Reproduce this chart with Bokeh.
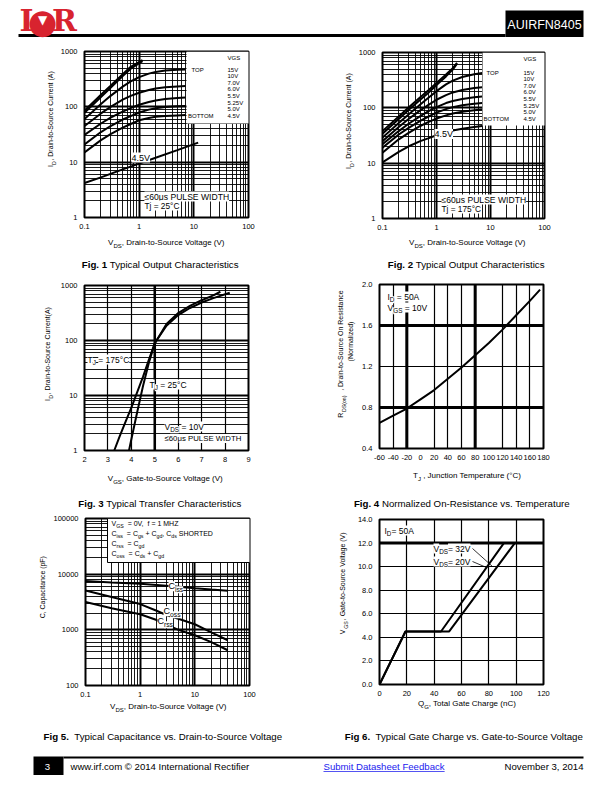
import math
from bokeh.plotting import figure
from bokeh.layouts import column, row
from bokeh.models import (Label, BoxAnnotation, Span, Arrow, FixedTicker, SingleIntervalTicker,
                          CustomJSTickFormatter, PrintfTickFormatter, Range1d)
from bokeh.embed import file_html
from bokeh.resources import INLINE

FONT = "Liberation Sans"

# ---------------- data ----------------
# Fig 1 : typical output characteristics, Tj = 25 C
vgs_steps = ["15V", "10V", "7.0V", "6.0V", "5.5V", "5.25V", "5.0V", "4.5V"]
f1_vds_a = [0.1, 0.2, 0.3, 0.5, 0.7, 1.15]
f1_id_15 = [85, 165, 240, 390, 530, 700]
f1_id_10 = [78, 150, 220, 360, 490, 670]
f1_vds_b = [0.1, 0.2, 0.3, 0.5, 0.7, 1.0, 1.5, 2.0, 3.0, 5.0, 7.0]
f1_id_70 = [60, 112, 158, 232, 288, 345, 398, 428, 452, 468, 474]
f1_id_60 = [45, 76, 100, 135, 158, 180, 202, 214, 225, 233, 237]
f1_id_55 = [31, 50, 64, 82, 95, 109, 122, 130, 138, 144, 147]
f1_id_525 = [21, 35, 45, 59, 68, 79, 89, 94, 99, 102, 104]
f1_id_50 = [15, 25, 32, 42, 49, 57, 63, 66, 68, 70, 71]
f1_vds_45 = [0.1, 0.2, 0.5, 1.0, 2.0, 5.0, 12.0]
f1_id_45 = [4.2, 5.3, 7.4, 9.4, 12.0, 16.5, 22.5]

# Fig 2 : typical output characteristics, Tj = 175 C
f2_vds_a = [0.1, 0.2, 0.3, 0.5, 0.7, 1.0, 1.5, 2.0, 2.4]
f2_id_15 = [38, 70, 100, 155, 205, 280, 400, 520, 650]
f2_id_10 = [34, 63, 90, 140, 186, 258, 370, 490, 630]
f2_vds_b = [0.1, 0.2, 0.3, 0.5, 0.7, 1.0, 1.5, 2.0, 3.0, 5.0, 7.0]
f2_id_70 = [29, 53, 75, 115, 150, 200, 265, 310, 360, 405, 425]
f2_id_60 = [25, 45, 62, 90, 112, 140, 170, 190, 210, 228, 235]
f2_id_55 = [22, 38, 51, 71, 86, 103, 122, 133, 145, 156, 161]
f2_id_525 = [19, 33, 43, 58, 69, 82, 95, 103, 111, 119, 122]
f2_id_50 = [15.5, 27, 35, 47, 55, 64, 73, 79, 85, 90, 93]
f2_id_45 = [10.3, 16, 20, 25, 28, 32, 36, 39, 42, 45, 47]

# Fig 3 : transfer characteristics
f3_vgs_175 = [3.27, 3.5, 3.75, 4.0, 4.25, 4.5, 4.75, 5.0, 5.5, 6.0, 6.5, 7.0, 7.5, 8.2]
f3_id_175 = [1, 1.8, 3.3, 6, 11.5, 22, 45, 90, 185, 290, 390, 490, 590, 740]
f3_vgs_25 = [3.9, 4.0, 4.25, 4.5, 4.75, 5.0, 5.5, 6.0, 6.5, 7.0, 7.5, 7.8]
f3_id_25 = [1, 1.6, 5, 15, 40, 88, 200, 315, 425, 540, 660, 770]

# Fig 4 : normalized on-resistance vs temperature
f4_tj = [-60, -40, -20, 0, 20, 40, 60, 80, 100, 120, 140, 160, 175]
f4_rds = [0.65, 0.72, 0.79, 0.88, 0.97, 1.08, 1.19, 1.31, 1.43, 1.56, 1.70, 1.84, 1.95]

# Fig 5 : capacitance vs VDS
f5_vds = [0.1, 0.3, 1, 2, 3, 5, 10, 20, 40]
f5_ciss = [7500, 7100, 6700, 6400, 6200, 5950, 5600, 5300, 5050]
f5_coss = [5100, 3900, 2900, 2200, 1850, 1580, 1260, 900, 650]
f5_crss = [3150, 2450, 1900, 1500, 1250, 1000, 800, 600, 430]

# Fig 6 : gate charge
f6_qg_20 = [0, 19, 45, 91]
f6_vgs_20 = [0, 4.5, 4.5, 12]
f6_qg_32 = [0, 19, 51, 99]
f6_vgs_32 = [0, 4.5, 4.5, 12]

# ---------------- text helpers ----------------
W = {' ': 278, '!': 278, '(': 333, ')': 333, '+': 584, ',': 278, '-': 333, '.': 278, '/': 278,
     ':': 278, '=': 584, '°': 400, 'μ': 556, '≤': 549, '©': 737,
     'A': 667, 'B': 667, 'C': 722, 'D': 722, 'E': 667, 'F': 611, 'G': 778, 'H': 722, 'I': 278,
     'J': 500, 'K': 667, 'L': 556, 'M': 833, 'N': 722, 'O': 778, 'P': 667, 'Q': 778, 'R': 722,
     'S': 667, 'T': 611, 'U': 722, 'V': 667, 'W': 944, 'X': 667, 'Y': 667, 'Z': 611,
     'a': 556, 'b': 556, 'c': 500, 'd': 556, 'e': 556, 'f': 278, 'g': 556, 'h': 556, 'i': 222,
     'j': 222, 'k': 500, 'l': 222, 'm': 833, 'n': 556, 'o': 556, 'p': 556, 'q': 556, 'r': 333,
     's': 500, 't': 278, 'u': 556, 'v': 500, 'w': 722, 'x': 500, 'y': 500, 'z': 500}
WB = {'F': 611, 'i': 278, 'g': 611, '.': 278, ' ': 278}
MID = 0.35        # distance baseline -> visual middle, in em
ROT_SCALE = 0.87  # rotated text renders wider; compensate


def tw(s, size, bold=False):
    tot = 0
    for c in s:
        if c.isdigit():
            tot += 556
        elif bold and c in WB:
            tot += WB[c]
        else:
            tot += W.get(c, 556)
    return tot * size / 1000.0


def lab(p, fr, text, px, py, size, align="left", angle=0.0, bold=False, bg=None,
        color="black", font=FONT):
    """px, py: page position of the text's anchor (vertical middle)."""
    fl, fb = fr
    kw = {}
    if bg is not None:
        kw["background_fill_color"] = bg
        kw["background_fill_alpha"] = 1.0
    p.add_layout(Label(x=px - fl, y=fb - py, x_units="screen", y_units="screen", text=text,
                       angle=angle, text_font=font, text_font_size="%.2fpx" % size,
                       text_font_style="bold" if bold else "normal", text_color=color,
                       text_align=align, text_baseline="middle", **kw))


def rich(p, fr, parts, px, py, size, align="left", angle=0.0, bg=None, color="black"):
    """parts: (text, style) with style n=normal, b=bold, s=subscript; py = baseline."""
    widths = []
    for t, st in parts:
        fs = size * 0.75 if st == "s" else size
        widths.append(tw(t, fs, st == "b"))
    total = sum(widths)
    pos = {"left": 0.0, "center": -total / 2.0, "right": -total}[align]
    for (t, st), w in zip(parts, widths):
        fs = size * 0.75 if st == "s" else size
        drop = size * 0.3 if st == "s" else 0.0
        lead = len(t) - len(t.lstrip(" "))
        core = t.strip(" ")
        off = pos + tw(" " * lead, fs)
        if core:
            if angle:
                qx, qy = px + drop - MID * fs, py - off
                lab(p, fr, core, qx, qy, fs * ROT_SCALE, angle=angle, bold=(st == "b"), bg=bg,
                    color=color)
            else:
                qx, qy = px + off, py + drop - MID * fs
                lab(p, fr, core, qx, qy, fs, angle=angle, bold=(st == "b"), bg=bg, color=color)
        pos += w


def box(p, fr, x0, x1, y0, y1, fill="white", line=None, lw=1):
    fl, fb = fr
    p.add_layout(BoxAnnotation(left=x0 - fl, right=x1 - fl, top=fb - y0, bottom=fb - y1,
                               left_units="screen", right_units="screen",
                               top_units="screen", bottom_units="screen",
                               fill_color=fill, fill_alpha=1.0,
                               line_color=line, line_alpha=1.0, line_width=lw))


def blank(w, h):
    f = figure(width=w, height=h, x_range=(0, 1), y_range=(0, 1), toolbar_location=None,
               output_backend="svg", title=None, x_axis_location=None, y_axis_location=None,
               min_border=0)
    f.outline_line_color = None
    f.xgrid.visible = False
    f.ygrid.visible = False
    f.border_fill_color = "white"
    f.background_fill_color = "white"
    return f


def make_chart(w, h, bl, br, bt, bb, xr, yr, xlog=False, ylog=False):
    p = figure(width=w, height=h, x_range=Range1d(*xr), y_range=Range1d(*yr),
               x_axis_type="log" if xlog else "linear", y_axis_type="log" if ylog else "linear",
               toolbar_location=None, output_backend="svg", title=None,
               min_border_left=bl, min_border_right=br, min_border_top=bt, min_border_bottom=bb)
    p.outline_line_color = "black"
    p.outline_line_width = 2
    p.outline_line_alpha = 1.0
    p.border_fill_color = "white"
    p.background_fill_color = "white"
    for ax in p.axis:
        ax.axis_line_color = None
        ax.major_tick_line_color = None
        ax.minor_tick_line_color = None
        ax.major_tick_out = 0
        ax.major_tick_in = 0
        ax.minor_tick_out = 0
        ax.minor_tick_in = 0
        ax.major_label_text_font = FONT
        ax.major_label_text_font_size = "7.5px"
        ax.major_label_text_color = "black"
    p.xaxis.major_label_standoff = 6
    p.yaxis.major_label_standoff = 7
    p.grid.grid_line_color = "black"
    p.grid.grid_line_alpha = 1.0
    p.grid.grid_line_width = 1.2
    fmt = "return String(Math.round(tick*1000)/1000);"
    if xlog:
        p.xaxis.formatter = CustomJSTickFormatter(code=fmt)
        p.xgrid.grid_line_width = 2
        p.xgrid.minor_grid_line_color = "black"
        p.xgrid.minor_grid_line_width = 0.9
    if ylog:
        p.yaxis.formatter = CustomJSTickFormatter(code=fmt)
        p.ygrid.grid_line_width = 2
        p.ygrid.minor_grid_line_color = "black"
        p.ygrid.minor_grid_line_width = 0.9
    return p


CURVE = dict(line_color="black", line_width=2)
AXS = 8.0      # axis-label font size
CAP = 9.7      # caption font size
UP = math.pi / 2

# ======== row 1 (page y 45..275) ========
y1 = blank(57, 193); fy1 = (0, 238)
p1 = make_chart(249, 193, 26, 58, 6, 21, (0.1, 100), (1, 1000), True, True); fr1 = (83, 217)
c1 = blank(306, 37); fc1 = (0, 275)
for ys in [f1_id_15, f1_id_10]:
    p1.line(f1_vds_a, ys, **CURVE)
for ys in [f1_id_70, f1_id_60, f1_id_55, f1_id_525, f1_id_50]:
    p1.line(f1_vds_b, ys, **CURVE)
p1.line(f1_vds_45, f1_id_45, **CURVE)
box(p1, fr1, 185, 249, 51, 123)
lab(p1, fr1, "VGS", 226, 57, 6)
lab(p1, fr1, "TOP", 190, 69, 6)
for i, s in enumerate(vgs_steps):
    lab(p1, fr1, s, 226, 69 + i * 6.65, 6)
lab(p1, fr1, "BOTTOM", 186.5, 69 + 7 * 6.65, 6)
lab(p1, fr1, "4.5V", 130, 157, 9, bg="white")
lab(p1, fr1, "≤60μs PULSE WIDTH", 143, 196, 8.6, bg="white")
lab(p1, fr1, "Tj = 25°C", 143, 205, 8.3, bg="white")
rich(y1, fy1, [("I", "n"), ("D", "s"), (", Drain-to-Source Current (A)", "n")], 53, 133, AXS,
     align="center", angle=UP)
rich(c1, fc1, [("V", "n"), ("DS", "s"), (", Drain-to-Source Voltage (V)", "n")], 166, 245, AXS,
     align="center")
rich(c1, fc1, [("Fig. 1", "b"), (" Typical Output Characteristics", "n")], 160, 267, CAP,
     align="center")

y2 = blank(49, 193); fy2 = (306, 238)
p2 = make_chart(257, 193, 24, 68, 7, 20, (0.1, 100), (1, 1000), True, True); fr2 = (379, 218)
c2 = blank(306, 37); fc2 = (306, 275)
for ys in [f2_id_15, f2_id_10]:
    p2.line(f2_vds_a, ys, **CURVE)
for ys in [f2_id_70, f2_id_60, f2_id_55, f2_id_525, f2_id_50, f2_id_45]:
    p2.line(f2_vds_b, ys, **CURVE)
box(p2, fr2, 479, 545, 52, 125)
lab(p2, fr2, "VGS", 520, 58, 6)
lab(p2, fr2, "TOP", 483, 72, 6)
for i, s in enumerate(vgs_steps):
    lab(p2, fr2, s, 520, 72 + i * 6.6, 6)
lab(p2, fr2, "BOTTOM", 480, 72 + 7 * 6.6, 6)
lab(p2, fr2, "4.5V", 431, 133.5, 9, bg="white")
lab(p2, fr2, "≤60μs PULSE WIDTH", 438, 199, 8.6, bg="white")
lab(p2, fr2, "Tj = 175°C", 438, 208, 8.3, bg="white")
rich(y2, fy2, [("I", "n"), ("D", "s"), (", Drain-to-Source Current (A)", "n")], 351, 134, AXS,
     align="center", angle=UP)
rich(c2, fc2, [("V", "n"), ("DS", "s"), (", Drain-to-Source Voltage (V)", "n")], 467, 245, AXS,
     align="center")
rich(c2, fc2, [("Fig. 2", "b"), (" Typical Output Characteristics", "n")], 466, 267, CAP,
     align="center")

# ======== row 2 (page y 275..512) ========
y3 = blank(57, 197); fy3 = (0, 472)
p3 = make_chart(249, 197, 26, 58, 10, 22, (2, 9), (1, 1000), False, True); fr3 = (83, 450)
c3 = blank(306, 40); fc3 = (0, 512)
p3.xaxis.ticker = SingleIntervalTicker(interval=1)
p3.xgrid.ticker = SingleIntervalTicker(interval=1)
p3.xaxis.formatter = PrintfTickFormatter(format="%d")
p3.add_layout(Span(location=5, dimension="height", line_color="black", line_width=2.5))
p3.line(f3_vgs_175, f3_id_175, **CURVE)
p3.line(f3_vgs_25, f3_id_25, **CURVE)
rich(p3, fr3, [("T", "n"), ("J", "s"), (" = 175°C", "n")], 86, 362, 8.5, bg="white")
rich(p3, fr3, [("T", "n"), ("J", "s"), (" = 25°C", "n")], 148, 387, 8.5, bg="white")
rich(p3, fr3, [("V", "n"), ("DS", "s"), (" = 10V", "n")], 163, 429, 8.5, bg="white")
lab(p3, fr3, "≤60μs PULSE WIDTH", 163, 438, 7.8, bg="white")
rich(y3, fy3, [("I", "n"), ("D", "s"), (", Drain-to-Source Current(A)", "n")], 50, 369, AXS,
     align="center", angle=UP)
rich(c3, fc3, [("V", "n"), ("GS", "s"), (", Gate-to-Source Voltage (V)", "n")], 165, 481, AXS,
     align="center")
rich(c3, fc3, [("Fig. 3", "b"), (" Typical Transfer Characteristics", "n")], 160, 506, CAP,
     align="center")

y4 = blank(52, 197); fy4 = (306, 472)
p4 = make_chart(254, 197, 21, 69, 9, 24, (-60, 180), (0.4, 2.0)); fr4 = (379, 448)
c4 = blank(306, 40); fc4 = (306, 512)
p4.xaxis.ticker = SingleIntervalTicker(interval=20)
p4.xaxis.formatter = PrintfTickFormatter(format="%d")
p4.xgrid.ticker = FixedTicker(ticks=[-40, -20, 20, 40, 60, 80, 120, 140, 160])
p4.yaxis.ticker = SingleIntervalTicker(interval=0.4)
p4.ygrid.ticker = SingleIntervalTicker(interval=0.4)
p4.yaxis.formatter = PrintfTickFormatter(format="%.1f")
for loc in (-20, 80):
    p4.add_layout(Span(location=loc, dimension="height", line_color="black", line_width=3))
for loc in (0.8, 1.6):
    p4.add_layout(Span(location=loc, dimension="width", line_color="black", line_width=3))
p4.line(f4_tj, f4_rds, **CURVE)
rich(p4, fr4, [("I", "n"), ("D", "s"), (" = 50A", "n")], 387, 299, 8.5, bg="white")
rich(p4, fr4, [("V", "n"), ("GS", "s"), (" = 10V", "n")], 387, 310, 8.5, bg="white")
rich(y4, fy4, [("R", "n"), ("DS(on)", "s"), (" , Drain-to-Source On Resistance", "n")], 343, 370,
     AXS, align="center", angle=UP)
rich(y4, fy4, [("(Normalized)", "n")], 353, 362, AXS, align="center", angle=UP)
rich(c4, fc4, [("T", "n"), ("J", "s"), (" , Junction Temperature (°C)", "n")], 467, 478, AXS,
     align="center")
rich(c4, fc4, [("Fig. 4", "b"), (" Normalized On-Resistance vs. Temperature", "n")], 462, 506,
     CAP, align="center")

# ======== row 3 (page y 512..748) ========
y5 = blank(50, 191); fy5 = (0, 703)
p5 = make_chart(256, 191, 33, 57, 6, 18, (0.1, 100), (100, 100000), True, True); fr5 = (83, 685)
c5 = blank(306, 45); fc5 = (0, 748)
p5.line(f5_vds, f5_ciss, **CURVE)
p5.line(f5_vds, f5_coss, **CURVE)
p5.line(f5_vds, f5_crss, **CURVE)
box(p5, fr5, 105, 250, 518, 562, line="black", lw=1)
L5 = 7.0
rich(p5, fr5, [("V", "n"), ("GS", "s"), ("  = 0V,", "n")], 109, 525, L5)
rich(p5, fr5, [("f = 1 MHZ", "n")], 145, 525, L5)
rich(p5, fr5, [("C", "n"), ("iss", "s"), ("  = C", "n"), ("gs", "s"), (" + C", "n"), ("gd", "s"),
               (", C", "n"), ("ds", "s"), (" SHORTED", "n")], 109, 535, L5)
rich(p5, fr5, [("C", "n"), ("rss", "s"), ("  = C", "n"), ("gd", "s")], 109, 545, L5)
rich(p5, fr5, [("C", "n"), ("oss", "s"), ("  = C", "n"), ("ds", "s"), (" + C", "n"), ("gd", "s")],
     109, 555, L5)
rich(p5, fr5, [("C", "n"), ("iss", "s")], 166, 589, 9, bg="white")
rich(p5, fr5, [("C", "n"), ("oss", "s")], 161, 614, 9, bg="white")
rich(p5, fr5, [("C", "n"), ("rss", "s")], 155, 624, 9, bg="white")
rich(y5, fy5, [("C, Capacitance (pF)", "n")], 45, 600, AXS, align="center", angle=UP)
rich(c5, fc5, [("V", "n"), ("DS", "s"), (", Drain-to-Source Voltage (V)", "n")], 168, 709, AXS,
     align="center")
rich(c5, fc5, [("Fig 5.", "b"), ("  Typical Capacitance vs. Drain-to-Source Voltage", "n")], 163,
     739, CAP, align="center")

y6 = blank(48, 188); fy6 = (306, 700)
p6 = make_chart(258, 188, 24, 69, 7, 16, (0, 120), (0, 14)); fr6 = (378, 684)
c6 = blank(306, 48); fc6 = (306, 748)
p6.xaxis.ticker = SingleIntervalTicker(interval=20)
p6.xgrid.ticker = SingleIntervalTicker(interval=20)
p6.xaxis.formatter = PrintfTickFormatter(format="%d")
p6.yaxis.ticker = SingleIntervalTicker(interval=2)
p6.ygrid.ticker = SingleIntervalTicker(interval=2)
p6.yaxis.formatter = PrintfTickFormatter(format="%.1f")
p6.add_layout(Span(location=12, dimension="width", line_color="black", line_width=3))
p6.line(f6_qg_20, f6_vgs_20, **CURVE)
p6.line(f6_qg_32, f6_vgs_32, **CURVE)
rich(p6, fr6, [("I", "n"), ("D", "s"), ("= 50A", "n")], 383, 533, 8.5, bg="white")
rich(p6, fr6, [("V", "n"), ("DS", "s"), ("= 32V", "n")], 432, 551, 8.5, bg="white")
rich(p6, fr6, [("V", "n"), ("DS", "s"), ("= 20V", "n")], 432, 564, 8.5, bg="white")
for (xa, ya, xb, yb) in [(471, 548, 491, 566), (471, 561, 485, 567)]:
    p6.add_layout(Arrow(end=None, x_start=xa - fr6[0], y_start=fr6[1] - ya,
                        x_end=xb - fr6[0], y_end=fr6[1] - yb,
                        start_units="screen", end_units="screen",
                        line_color="black", line_width=0.8))
rich(y6, fy6, [("V", "n"), ("GS", "s"), (", Gate-to-Source Voltage (V)", "n")], 345, 592, AXS,
     align="center", angle=UP)
rich(c6, fc6, [("Q", "n"), ("G", "s"), (",  Total Gate Charge (nC)", "n")], 468, 706, AXS,
     align="center")
rich(c6, fc6, [("Fig 6.", "b"), ("  Typical Gate Charge vs. Gate-to-Source Voltage", "n")], 464,
     739, CAP, align="center")

# ======== header / footer ========
frH = (0, 45)
hdr = blank(612, 45)
RED = "#d8232f"
box(hdr, frH, 18, 505, 33.5, 36.5, fill="black")
box(hdr, frH, 505, 583, 10, 36.5, fill="black")
lab(hdr, frH, "AUIRFN8405", 544, 28.5 - MID * 12.5, 12.5, align="center", color="white")
lab(hdr, frH, "I", 19, 30.5 - MID * 30, 30, bold=True, color=RED, font="DejaVu Serif")
lab(hdr, frH, "●", 42, 20.5, 34, align="center", color=RED, font="DejaVu Sans")
lab(hdr, frH, "▼", 42, 19.5, 12, align="center", color="white", font="DejaVu Sans")
lab(hdr, frH, "R", 51.5, 30.5 - MID * 30, 30, bold=True, color=RED, font="DejaVu Serif")

frF = (0, 790)
ftr = blank(612, 42)
box(ftr, frF, 33, 63, 756, 774.5, fill="black")
box(ftr, frF, 63, 583, 756, 758, fill="black")
FS = 9.6
BL = 769.5
lab(ftr, frF, "3", 47, BL - MID * FS, FS, align="center", color="white")
lab(ftr, frF, "www.irf.com  © 2014 International Rectifier", 70, BL - MID * FS, FS)
link = "Submit Datasheet Feedback"
lab(ftr, frF, link, 323, BL - MID * FS, FS, color="#1a1aee")
box(ftr, frF, 323, 323 + tw(link, FS), BL + 1.0, BL + 1.8, fill="#1a1aee")
lab(ftr, frF, "November 3, 2014", 583, BL - MID * FS, FS, align="right")

cell1 = column(row(y1, p1), c1)
cell2 = column(row(y2, p2), c2)
cell3 = column(row(y3, p3), c3)
cell4 = column(row(y4, p4), c4)
cell5 = column(row(y5, p5), c5)
cell6 = column(row(y6, p6), c6)
page = column(hdr, row(cell1, cell2), row(cell3, cell4), row(cell5, cell6), ftr)
open("out.html", "w").write(file_html(page, INLINE))
